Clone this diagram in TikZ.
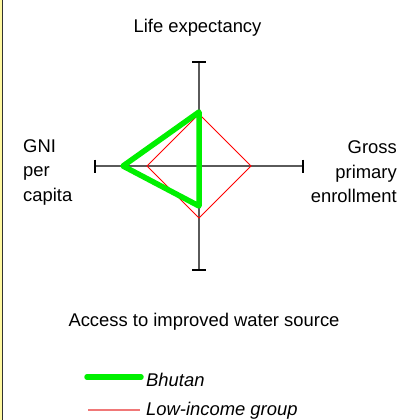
\documentclass[tikz,border=0pt]{standalone}
\usepackage{fontspec}
\setmainfont{Liberation Sans}
\definecolor{bgreen}{RGB}{0,240,0}
\definecolor{axisgray}{RGB}{90,90,90}
\definecolor{edgeyellow}{RGB}{255,248,160}
\definecolor{edgedark}{RGB}{50,50,50}
\definecolor{legred}{RGB}{240,120,120}
\begin{document}
\begin{tikzpicture}[x=1bp,y=-1bp,
  axis/.style={draw=axisgray, line width=1.2bp},
  axtick/.style={draw=black, line width=1.3bp},
  lbl/.style={font=\fontsize{18.4bp}{24.5bp}\selectfont, inner sep=0pt},
  leglbl/.style={font=\fontsize{18.4bp}{24.5bp}\selectfont\itshape, inner sep=0pt, anchor=west},
  bhutan/.style={draw=bgreen, line width=5.5bp, line join=round, line cap=round},
  lowinc/.style={draw=red, line width=0.9bp, line join=miter},
  leglow/.style={draw=legred, line width=1.2bp}]
\useasboundingbox (0,0) rectangle (401,420);
% left frame edge
\fill[edgeyellow] (0,0) rectangle (2.4,420);
\draw[edgedark, line width=1bp] (2.9,0) -- (2.9,420);
% axes
\coordinate (c) at (199,166);
\coordinate (at) at (199,62);
\coordinate (ab) at (199,270);
\coordinate (al) at (95,166);
\coordinate (ar) at (303,166);
\draw[axis] (at) -- (ab);
\draw[axis] (al) -- (ar);
\draw[axtick] (at) ++(-7,0) -- ++(14,0);
\draw[axtick] (ab) ++(-7,0) -- ++(14,0);
\draw[axtick] (al) ++(0,-6.5) -- ++(0,13);
\draw[axtick] (ar) ++(0,-6.5) -- ++(0,13);
% low-income group
\coordinate (rt) at (199,114);
\coordinate (rr) at (251,166);
\coordinate (rb) at (199,218);
\coordinate (rl) at (147,166);
\draw[lowinc] (rt) -- (rr) -- (rb) -- (rl) -- cycle;
% Bhutan
\coordinate (gt) at (199,112);
\coordinate (gl) at (123,166);
\coordinate (gb) at (199,206);
\draw[bhutan] (gt) -- (gl) -- (gb) -- cycle;
% labels
\node[lbl] (life) at (197.5,27.5) {Life expectancy};
\node[lbl, anchor=west, align=left] (gni) at (23,172) {GNI\\per\\capita};
\node[lbl, anchor=east, align=right] (gross) at (397,172) {Gross\\primary\\enrollment};
\node[lbl] (water) at (204,322) {Access to improved water source};
% legend
\coordinate (lg1) at (87,377);
\coordinate (lg2) at (141,377);
\draw[bhutan] (lg1) -- (lg2);
\node[leglbl] (lgb) at (146,379.5) {Bhutan};
\coordinate (lr1) at (88,410);
\coordinate (lr2) at (140,410);
\draw[leglow] (lr1) -- (lr2);
\node[leglbl] (lgl) at (146,411) {Low-income group};
\end{tikzpicture}
\end{document}
